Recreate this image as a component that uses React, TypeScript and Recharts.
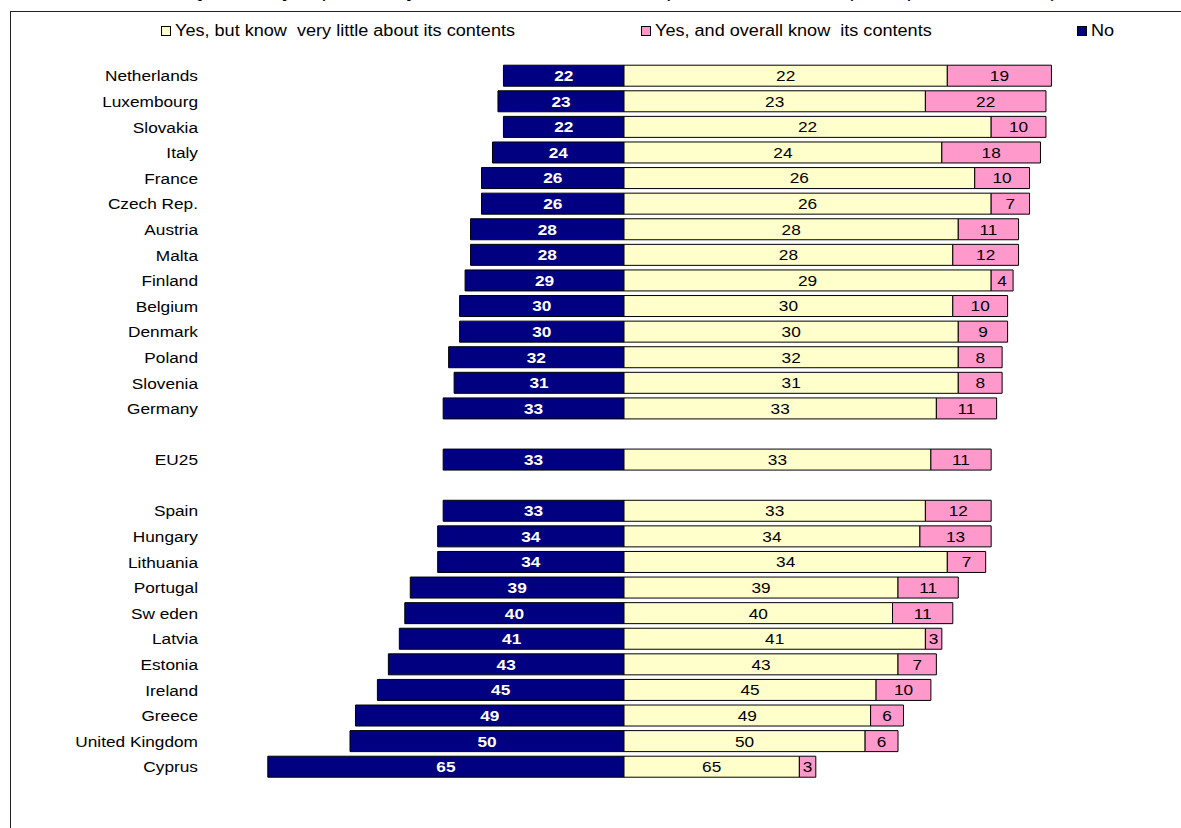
import React from 'react';
import { BarChart, Bar, XAxis, YAxis, LabelList } from 'recharts';

const countries = [
  'Netherlands', 'Luxembourg', 'Slovakia', 'Italy', 'France', 'Czech Rep.', 'Austria', 'Malta',
  'Finland', 'Belgium', 'Denmark', 'Poland', 'Slovenia', 'Germany', ' ', 'EU25', '  ',
  'Spain', 'Hungary', 'Lithuania', 'Portugal', 'Sw eden', 'Latvia', 'Estonia', 'Ireland',
  'Greece', 'United Kingdom', 'Cyprus',
];
const noValues: (number | null)[] = [22, 23, 22, 24, 26, 26, 28, 28, 29, 30, 30, 32, 31, 33, null, 33, null, 33, 34, 34, 39, 40, 41, 43, 45, 49, 50, 65];
const littleValues: (number | null)[] = [59, 55, 67, 58, 64, 67, 61, 60, 67, 60, 61, 61, 61, 57, null, 56, null, 55, 54, 59, 50, 49, 55, 50, 46, 45, 44, 32];
const knowValues: (number | null)[] = [19, 22, 10, 18, 10, 7, 11, 12, 4, 10, 9, 8, 8, 11, null, 11, null, 12, 13, 7, 11, 11, 3, 7, 10, 6, 6, 3];

const seriesNames = {
  little: 'Yes, but know  very little about its contents',
  know: 'Yes, and overall know  its contents',
  no: 'No',
};
const titleText = 'Q1. Have you personally heard about the draft European Constitution? (% respondents EU25)';

const COLORS = { no: '#000080', little: '#FFFFCC', know: '#FF99CC' };
const FONT = "'Liberation Sans', Arial, sans-serif";
const STRETCH = 1.15;

const data = countries.map((c, i) => ({
  name: c,
  no: noValues[i] === null ? null : -(noValues[i] as number),
  noLabel: noValues[i],
  little: littleValues[i],
  know: knowValues[i],
}));

const CountryTick = (props: any) => {
  const { y, payload } = props;
  return (
    <text
      transform={`translate(198,${y}) scale(${STRETCH},1)`}
      textAnchor="end"
      dy="0.36em"
      fontSize={15}
      fontFamily={FONT}
      fill="#000"
    >
      {payload.value}
    </text>
  );
};

const makeLabel = (color: string, bold: boolean) => (props: any) => {
  const { x, y, width, height, value } = props;
  if (value === null || value === undefined) return null;
  const cx = Number(x) + Number(width) / 2;
  const cy = Number(y) + Number(height) / 2;
  return (
    <text
      transform={`translate(${cx},${cy}) scale(${STRETCH},1)`}
      textAnchor="middle"
      dy="0.36em"
      fontSize={15}
      fontWeight={bold ? 'bold' : 'normal'}
      fontFamily={FONT}
      fill={color}
    >
      {value}
    </text>
  );
};

const LegendItem = ({ left, color, label }: { left: number; color: string; label: string }) => (
  <>
    <div
      style={{
        position: 'absolute', left, top: 26, width: 8, height: 8,
        background: color, border: '1px solid #000',
      }}
    />
    <div
      style={{
        position: 'absolute', left: left + 14, top: 22, fontSize: 16, lineHeight: '18px',
        fontFamily: FONT, whiteSpace: 'pre', transform: 'scaleX(1.13)', transformOrigin: 'left center', color: '#000',
      }}
    >
      {label}
    </div>
  </>
);

export default function App() {
  return (
    <div style={{ position: 'absolute', left: 0, top: 0, width: 1181, height: 828, background: '#fff', overflow: 'hidden' }}>
      <div
        style={{
          position: 'absolute', left: 190, top: -18, fontSize: 18, lineHeight: '18px', fontStyle: 'italic',
          fontFamily: FONT, whiteSpace: 'pre', transform: 'scaleX(1.16)', transformOrigin: 'left center', color: '#000',
        }}
      >
        {titleText}
      </div>
      <div
        style={{
          position: 'absolute', left: 10, top: 11, width: 1200, height: 900,
          borderTop: '1px solid #222', borderLeft: '1px solid #222',
        }}
      />
      <LegendItem left={161} color={COLORS.little} label={seriesNames.little} />
      <LegendItem left={641} color={COLORS.know} label={seriesNames.know} />
      <LegendItem left={1077} color={COLORS.no} label={seriesNames.no} />
      <div style={{ position: 'absolute', left: 0, top: 0 }}>
        <BarChart
          width={1181}
          height={828}
          data={data}
          layout="vertical"
          stackOffset="sign"
          barSize={21}
          margin={{ top: 63.2, bottom: 48.2, left: 40.4, right: 9 }}
        >
          <XAxis type="number" domain={[-70, 100]} hide allowDataOverflow />
          <YAxis
            type="category"
            dataKey="name"
            width={200}
            axisLine={false}
            tickLine={false}
            interval={0}
            tick={<CountryTick />}
          />
          <Bar dataKey="no" stackId="a" fill={COLORS.no} stroke="#000" strokeWidth={1} isAnimationActive={false}>
            <LabelList dataKey="noLabel" content={makeLabel('#fff', true)} />
          </Bar>
          <Bar dataKey="little" stackId="a" fill={COLORS.little} stroke="#000" strokeWidth={1} isAnimationActive={false}>
            <LabelList dataKey="noLabel" content={makeLabel('#000', false)} />
          </Bar>
          <Bar dataKey="know" stackId="a" fill={COLORS.know} stroke="#000" strokeWidth={1} isAnimationActive={false}>
            <LabelList dataKey="know" content={makeLabel('#000', false)} />
          </Bar>
        </BarChart>
      </div>
    </div>
  );
}
